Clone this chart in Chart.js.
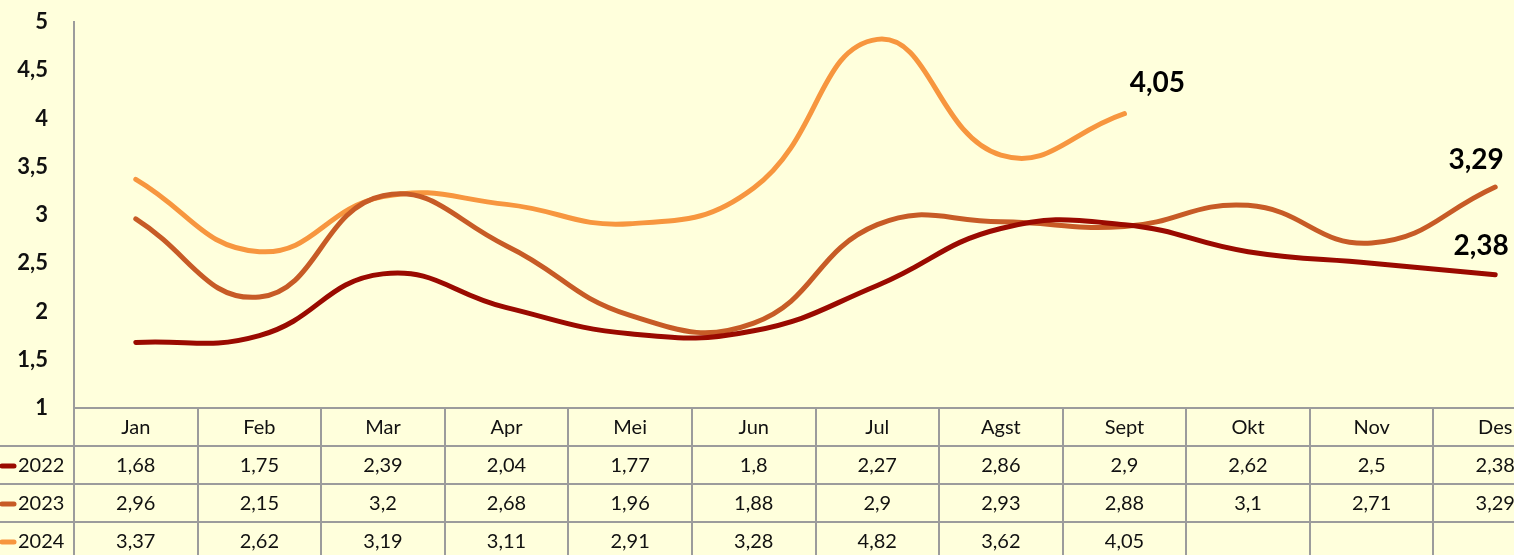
<!DOCTYPE html>
<html>
<head>
<meta charset="utf-8">
<script src="https://cdn.jsdelivr.net/npm/chart.js@4"></script>
<style>
  html, body { margin: 0; padding: 0; background: #FFFFDC; overflow: hidden; }
  #wrap { width: 1560px; height: 555px; position: relative; }
</style>
</head>
<body>
<div id="wrap"><canvas id="chart"></canvas></div>
<script>
// Data
const months = ['Jan', 'Feb', 'Mar', 'Apr', 'Mei', 'Jun', 'Jul', 'Agst', 'Sept', 'Okt', 'Nov', 'Des'];
const years = ['2022', '2023', '2024'];
const data2022 = [1.68, 1.75, 2.39, 2.04, 1.77, 1.8, 2.27, 2.86, 2.9, 2.62, 2.5, 2.38];
const data2023 = [2.96, 2.15, 3.2, 2.68, 1.96, 1.88, 2.9, 2.93, 2.88, 3.1, 2.71, 3.29];
const data2024 = [3.37, 2.62, 3.19, 3.11, 2.91, 3.28, 4.82, 3.62, 4.05, null, null, null];
const yTicks = [1, 1.5, 2, 2.5, 3, 3.5, 4, 4.5, 5];

const colors = ['#9A0A00', '#C75B26', '#F7963F'];
const gridColor = '#9C9C9C';
const fmt = v => String(v).replace('.', ',');

// Tabel data di bawah grafik
const dataTable = {
    id: 'dataTable',
    afterDraw(chart) {
        const ctx = chart.ctx;
        const x = chart.scales.x;
        const area = chart.chartArea;
        const rowH = 38;
        const top = area.bottom;
        const colW = x.getPixelForValue(1) - x.getPixelForValue(0);
        const rows = [data2022, data2023, data2024];

        ctx.save();
        ctx.strokeStyle = gridColor;
        ctx.lineWidth = 2;
        ctx.beginPath();
        // garis horizontal
        ctx.moveTo(area.left, top);
        ctx.lineTo(chart.width, top);
        for (let r = 1; r <= 3; r++) {
            ctx.moveTo(0, top + rowH * r);
            ctx.lineTo(chart.width, top + rowH * r);
        }
        // garis vertikal
        for (let i = 0; i <= months.length; i++) {
            const px = Math.round(x.getPixelForValue(i) - colW / 2);
            ctx.moveTo(px, i === 0 ? area.top : top);
            ctx.lineTo(px, chart.height);
        }
        ctx.stroke();

        ctx.fillStyle = '#111';
        ctx.font = '20px Lato';
        ctx.textAlign = 'center';
        ctx.textBaseline = 'middle';
        months.forEach((m, i) => {
            ctx.fillText(m, x.getPixelForValue(i), top + rowH / 2 + 1);
        });
        rows.forEach((row, r) => {
            const cy = top + rowH * (r + 1) + rowH / 2 + 1;
            row.forEach((v, i) => {
                if (v !== null) ctx.fillText(fmt(v), x.getPixelForValue(i), cy);
            });
            // legenda
            ctx.save();
            ctx.strokeStyle = colors[r];
            ctx.lineWidth = 5;
            ctx.lineCap = 'round';
            ctx.beginPath();
            ctx.moveTo(2, cy);
            ctx.lineTo(14, cy);
            ctx.stroke();
            ctx.restore();
            ctx.textAlign = 'left';
            ctx.fillText(years[r], 18, cy);
            ctx.textAlign = 'center';
        });
        ctx.restore();
    }
};

// Label nilai terakhir
const labelOffsets = [[-14, -29], [-19, -27], [33, -31]];
const endLabels = {
    id: 'endLabels',
    afterDatasetsDraw(chart) {
        const ctx = chart.ctx;
        ctx.save();
        ctx.font = 'bold 28px Lato';
        ctx.fillStyle = '#000';
        ctx.textAlign = 'center';
        ctx.textBaseline = 'middle';
        chart.data.datasets.forEach((ds, d) => {
            let last = ds.data.length - 1;
            while (ds.data[last] === null) last--;
            const pt = chart.getDatasetMeta(d).data[last];
            ctx.fillText(fmt(ds.data[last]), pt.x + labelOffsets[d][0], pt.y + labelOffsets[d][1]);
        });
        ctx.restore();
    }
};

const ctx = document.getElementById('chart').getContext('2d');
const chart = new Chart(ctx, {
    type: 'line',
    data: {
        labels: months,
        datasets: [data2022, data2023, data2024].map((d, i) => ({
            label: years[i],
            data: d,
            borderColor: colors[i],
            borderWidth: 5,
            pointRadius: 0,
            tension: 0.45,
            borderCapStyle: 'round',
            fill: false
        }))
    },
    options: {
        responsive: true,
        maintainAspectRatio: false,
        animation: false,
        layout: { padding: { top: 22, bottom: 147, left: 0, right: 3 } },
        plugins: {
            legend: { display: false },
            tooltip: { enabled: false }
        },
        scales: {
            x: {
                display: false,
                offset: true
            },
            y: {
                min: 1,
                max: 5,
                afterBuildTicks: s => { s.ticks = yTicks.map(v => ({ value: v })); },
                afterFit: s => {
                    s.width = 74;
                    s.paddingTop = 0;
                    s.paddingBottom = 0;
                },
                grid: { drawOnChartArea: false, drawTicks: false },
                border: { display: true, color: gridColor, width: 2 },
                ticks: {
                    padding: 26,
                    color: '#111',
                    font: { family: 'Lato', size: 22, weight: 'bold' },
                    callback: v => fmt(v)
                }
            }
        }
    },
    plugins: [dataTable, endLabels]
});
</script>
</body>
</html>
